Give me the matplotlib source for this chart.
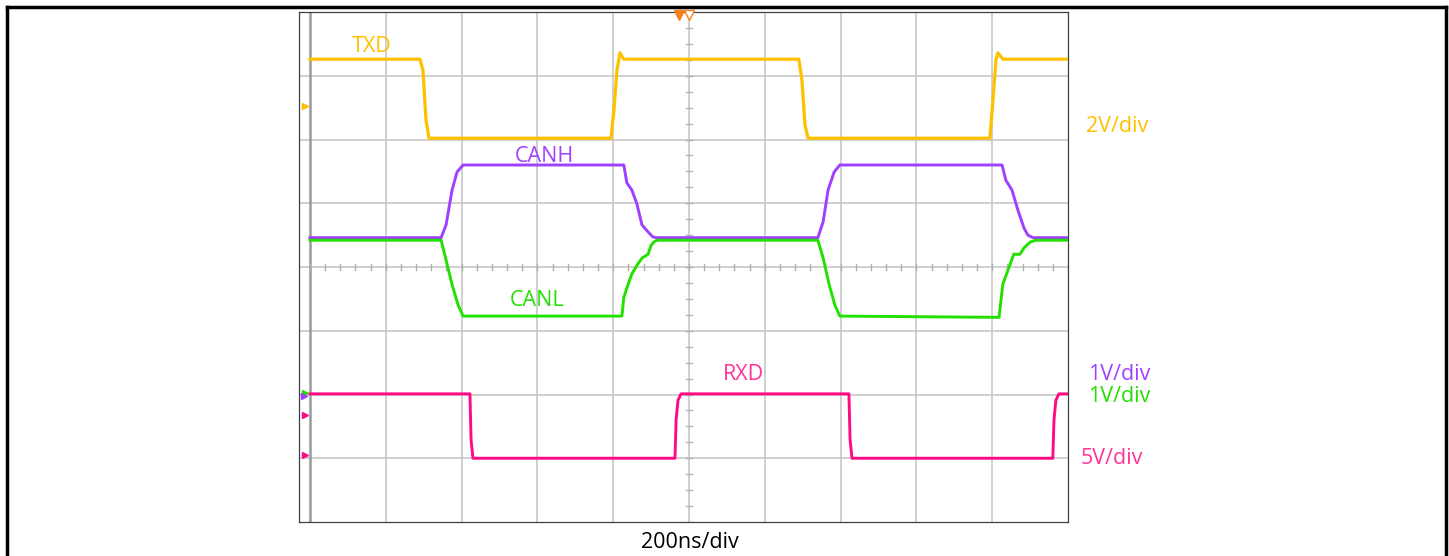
import matplotlib.pyplot as plt
from matplotlib.lines import Line2D
import numpy as np

W, H = 1449, 556

# time in ns (200ns/div), levels in screen divisions (8 div tall)
txd_t = [0, 290, 298, 306, 314, 794, 802, 810, 818, 828, 1290, 1298, 1306, 1314, 1794, 1802, 1810, 1815, 1828, 2000]
txd_v = [7.26, 7.26, 7.09, 6.31, 6.02, 6.02, 6.46, 7.09, 7.36, 7.26, 7.26, 6.93, 6.23, 6.02, 6.02, 6.62, 7.25, 7.36, 7.26, 7.26]

canh_t = [0, 346, 359, 375, 388, 404, 828, 836, 849, 862, 876, 892, 905, 915,
          1340, 1354, 1367, 1383, 1398, 1826, 1836, 1852, 1868, 1884, 1894, 1908, 2000]
canh_v = [4.46, 4.46, 4.66, 5.21, 5.49, 5.60, 5.60, 5.32, 5.21, 5.00, 4.66, 4.55, 4.47, 4.46,
          4.46, 4.71, 5.21, 5.49, 5.60, 5.60, 5.36, 5.21, 4.89, 4.61, 4.50, 4.46, 4.46]

canl_t = [0, 346, 359, 375, 391, 404, 823, 828, 836, 849, 862, 876, 892, 900, 907, 915,
          1340, 1354, 1370, 1385, 1398, 1818, 1828, 1844, 1857, 1873, 1884, 1900, 1915, 2000]
canl_v = [4.42, 4.42, 4.11, 3.72, 3.40, 3.23, 3.23, 3.52, 3.67, 3.89, 4.02, 4.14, 4.20, 4.34, 4.39, 4.42,
          4.42, 4.14, 3.72, 3.40, 3.23, 3.21, 3.73, 3.99, 4.20, 4.20, 4.30, 4.39, 4.42, 4.42]

rxd_t = [0, 422, 425, 430, 963, 966, 971, 979, 1422, 1425, 1430, 1960, 1963, 1968, 1976, 2000]
rxd_v = [2.01, 2.01, 1.29, 1.00, 1.00, 1.60, 1.91, 2.01, 2.01, 1.29, 1.00, 1.00, 1.60, 1.91, 2.01, 2.01]

c_txd = '#FFC000'
c_canh = '#A040FF'
c_canl = '#22E000'
c_rxd = '#FF0A84'

fig = plt.figure(figsize=(W / 100, H / 100), dpi=100)
ax = fig.add_axes([299 / W, 1 - 522 / H, (1068 - 299) / W, (522 - 12) / H])
ax.set_xlim(-29, 2000)
ax.set_ylim(0, 8)

# scope graticule
for i in range(1, 10):
    ax.axvline(i * 200, color='#C4C4C4', lw=1.1, zorder=1)
for j in range(1, 8):
    ax.axhline(j, color='#C4C4C4', lw=1.1, zorder=1)
ax.axvline(0, color='#9A9A9A', lw=1.8, zorder=1)
for k in np.arange(0, 2001, 40):
    ax.plot([k, k], [3.96, 4.04], color='#B0B0B0', lw=1, zorder=1)
for k in np.arange(0, 8.01, 0.25):
    ax.plot([993, 1007], [k, k], color='#B0B0B0', lw=1, zorder=1)

ax.plot(txd_t, txd_v, color=c_txd, lw=2.3, zorder=3)
ax.plot(canh_t, canh_v, color=c_canh, lw=2.1, zorder=3)
ax.plot(canl_t, canl_v, color=c_canl, lw=2.1, zorder=4)
ax.plot(rxd_t, rxd_v, color=c_rxd, lw=2.1, zorder=3)

# trigger / channel markers
ax.plot(974, 7.95, marker='v', color='#F58220', ms=7, clip_on=False, zorder=5)
ax.plot(1000, 7.95, marker='v', mfc='white', mec='#F58220', ms=7, clip_on=False, zorder=5)
ax.plot(-14, 6.53, marker='>', color=c_txd, ms=5, clip_on=False)
ax.plot(-14, 2.02, marker='>', color=c_canl, ms=5, clip_on=False)
ax.plot(-17, 1.97, marker='>', color=c_canh, ms=4, clip_on=False)
ax.plot(-14, 1.68, marker='>', color=c_rxd, ms=5, clip_on=False)
ax.plot(-14, 1.05, marker='>', color=c_rxd, ms=5, clip_on=False)

ax.set_xticks([])
ax.set_yticks([])
for s in ax.spines.values():
    s.set_color('#404040')
    s.set_linewidth(0.9)

def put(x, y, s, c, ha='center'):
    fig.text(x / W, 1 - (y + 2) / H, s, color=c, fontsize=15.5, ha=ha, va='center', family='Open Sans')

put(372, 45, 'TXD', c_txd)
put(544, 155, 'CANH', c_canh)
put(537, 298, 'CANL', c_canl)
put(743, 373, 'RXD', '#FF3399')
put(1086, 125, '2V/div', c_txd, ha='left')
put(1088, 373, '1V/div', c_canh, ha='left')
put(1088, 395, '1V/div', c_canl, ha='left')
put(1081, 457, '5V/div', '#FF3399', ha='left')
put(690, 540, '200ns/div', 'black')

# outer frame
fig.add_artist(Line2D([7 / W, 7 / W], [0, 1 - 7 / H], color='black', lw=2.5))
fig.add_artist(Line2D([7 / W, 1446 / W], [1 - 7 / H, 1 - 7 / H], color='black', lw=2.5))
fig.add_artist(Line2D([1446 / W, 1446 / W], [0, 1 - 7 / H], color='black', lw=2.5))

fig.savefig('out.png', dpi=100)
